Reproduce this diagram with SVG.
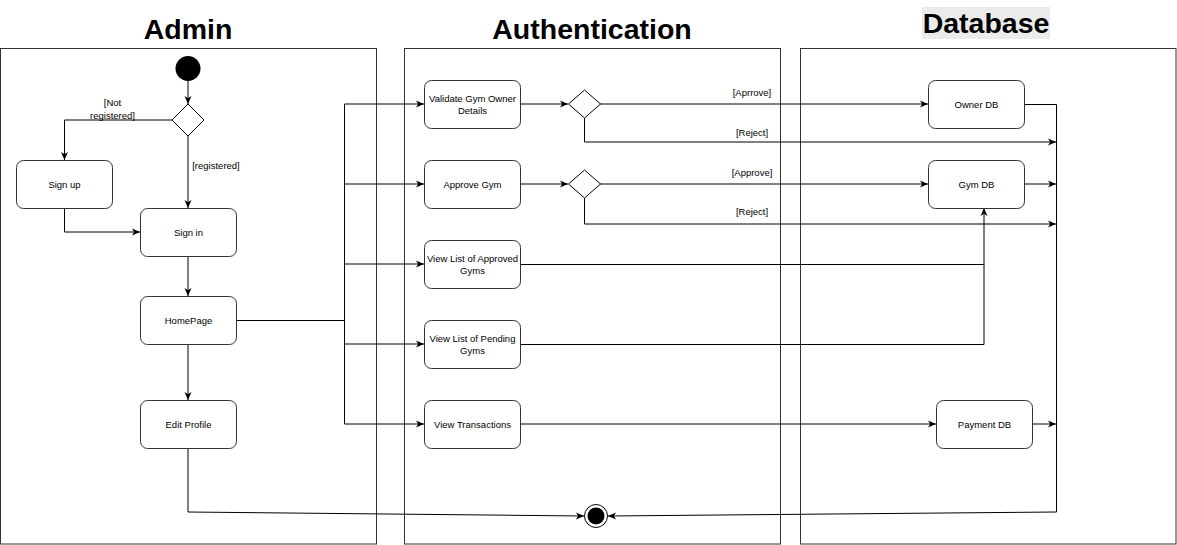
<svg xmlns="http://www.w3.org/2000/svg" width="1177" height="545" viewBox="0 0 1177 545">
<style>
.lane{fill:#fff;stroke:#333;stroke-width:1}
.title{font-family:"Liberation Sans",Arial,sans-serif;font-weight:bold;font-size:28.5px;text-anchor:middle;fill:#000}
.node rect{fill:#fff;stroke:#333;stroke-width:1}
.t{font-family:"Liberation Sans",Arial,sans-serif;font-size:9.5px;text-anchor:middle;fill:#000}
.c{fill:none;stroke:#000;stroke-width:1}
.dia{fill:#fff;stroke:#000;stroke-width:1}
</style>
<defs>
<marker id="arr" viewBox="0 0 8 8" refX="8" refY="4" markerWidth="8" markerHeight="8" orient="auto" markerUnits="userSpaceOnUse">
<path d="M0,0.5 L8,4 L0,7.5 L2.2,4 z" fill="#000"/>
</marker>
</defs>
<rect width="1177" height="545" fill="#fff"/>

<g id="lane-admin">
<rect class="lane" x="0.5" y="48.5" width="376" height="495.5"/>
<text class="title" x="188" y="39">Admin</text>
</g>
<g id="lane-auth">
<rect class="lane" x="404.5" y="48.5" width="376" height="495.5"/>
<text class="title" x="592" y="39">Authentication</text>
</g>
<g id="lane-db">
<rect class="lane" x="800.5" y="48.5" width="375.5" height="495.5"/>
<rect x="922" y="7" width="128" height="32" fill="#ebebeb"/>
<text class="title" x="986" y="33">Database</text>
</g>

<g id="connectors">
<path class="c" d="M188,81 V104" marker-end="url(#arr)"/>
<path class="c" d="M172,120 H64.5 V160" marker-end="url(#arr)"/>
<path class="c" d="M188,136 V208" marker-end="url(#arr)"/>
<path class="c" d="M64.5,208 V232 H140" marker-end="url(#arr)"/>
<path class="c" d="M188,256 V296" marker-end="url(#arr)"/>
<path class="c" d="M188,344 V400" marker-end="url(#arr)"/>
<path class="c" d="M188,448 V512 L584,516" marker-end="url(#arr)"/>
<path class="c" d="M236,320.5 H344.5"/>
<path class="c" d="M344.5,104 V424"/>
<path class="c" d="M344.5,104 H424" marker-end="url(#arr)"/>
<path class="c" d="M344.5,184 H424" marker-end="url(#arr)"/>
<path class="c" d="M344.5,264 H424" marker-end="url(#arr)"/>
<path class="c" d="M344.5,344 H424" marker-end="url(#arr)"/>
<path class="c" d="M344.5,424 H424" marker-end="url(#arr)"/>
<path class="c" d="M520,104 H568" marker-end="url(#arr)"/>
<path class="c" d="M600,104 H928" marker-end="url(#arr)"/>
<path class="c" d="M584.5,118 V142 H1056" marker-end="url(#arr)"/>
<path class="c" d="M520,184 H568" marker-end="url(#arr)"/>
<path class="c" d="M600,184 H928" marker-end="url(#arr)"/>
<path class="c" d="M584.5,198 V224 H1056" marker-end="url(#arr)"/>
<path class="c" d="M520,264.5 H984 V208" marker-end="url(#arr)"/>
<path class="c" d="M520,344.5 H984 V264"/>
<path class="c" d="M520,424 H936" marker-end="url(#arr)"/>
<path class="c" d="M1024,104.5 H1056.5 V512 L608,516" marker-end="url(#arr)"/>
<path class="c" d="M1024,184 H1056" marker-end="url(#arr)"/>
<path class="c" d="M1032,424 H1056" marker-end="url(#arr)"/>
<text class="t" x="112.5" y="106">[Not</text>
<text class="t" x="112.5" y="118.5">registered]</text>
<text class="t" x="216" y="168.5">[registered]</text>
<text class="t" x="752" y="96">[Aprrove]</text>
<text class="t" x="752" y="135.5">[Reject]</text>
<text class="t" x="752" y="176">[Approve]</text>
<text class="t" x="752" y="214.5">[Reject]</text>
</g>

<g id="start"><circle cx="188" cy="68.5" r="12.5" fill="#000"/></g>
<g id="decision-registered"><path class="dia" d="M188,104 L204,120 L188,136 L172,120 z"/></g>
<g id="signup" class="node"><rect x="16.5" y="160.5" width="96" height="48" rx="7"/><text class="t" x="64.5" y="188">Sign up</text></g>
<g id="signin" class="node"><rect x="140.5" y="208.5" width="96" height="48" rx="7"/><text class="t" x="188.5" y="236">Sign in</text></g>
<g id="homepage" class="node"><rect x="140.5" y="296.5" width="96" height="48" rx="7"/><text class="t" x="188.5" y="324">HomePage</text></g>
<g id="editprofile" class="node"><rect x="140.5" y="400.5" width="96" height="48" rx="7"/><text class="t" x="188.5" y="428">Edit Profile</text></g>

<g id="validate" class="node"><rect x="424.5" y="80.5" width="96" height="48" rx="7"/><text class="t" x="472.5" y="102">Validate Gym Owner</text><text class="t" x="472.5" y="114">Details</text></g>
<g id="decision-owner"><path class="dia" d="M584.5,90 L600.5,104 L584.5,118 L568.5,104 z"/></g>
<g id="approvegym" class="node"><rect x="424.5" y="160.5" width="96" height="48" rx="7"/><text class="t" x="472.5" y="188">Approve Gym</text></g>
<g id="decision-gym"><path class="dia" d="M584.5,170 L600.5,184 L584.5,198 L568.5,184 z"/></g>
<g id="approvedlist" class="node"><rect x="424.5" y="240.5" width="96" height="48" rx="7"/><text class="t" x="472.5" y="262">View List of Approved</text><text class="t" x="472.5" y="274">Gyms</text></g>
<g id="pendinglist" class="node"><rect x="424.5" y="320.5" width="96" height="48" rx="7"/><text class="t" x="472.5" y="342">View List of Pending</text><text class="t" x="472.5" y="354">Gyms</text></g>
<g id="transactions" class="node"><rect x="424.5" y="400.5" width="96" height="48" rx="7"/><text class="t" x="472.5" y="428">View Transactions</text></g>

<g id="ownerdb" class="node"><rect x="928.5" y="80.5" width="96" height="48" rx="7"/><text class="t" x="976.5" y="108">Owner DB</text></g>
<g id="gymdb" class="node"><rect x="928.5" y="160.5" width="96" height="48" rx="7"/><text class="t" x="976.5" y="188">Gym DB</text></g>
<g id="paymentdb" class="node"><rect x="936.5" y="400.5" width="96" height="48" rx="7"/><text class="t" x="984.5" y="428">Payment DB</text></g>

<g id="end"><circle cx="596" cy="516" r="11.5" fill="#fff" stroke="#000" stroke-width="1"/><circle cx="596" cy="516" r="8.5" fill="#000"/></g>
</svg>
